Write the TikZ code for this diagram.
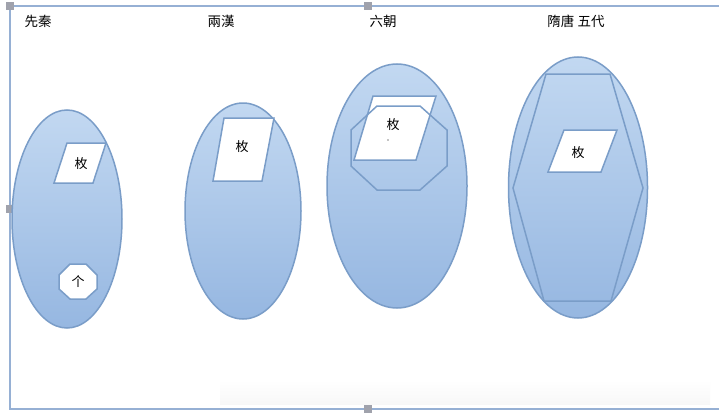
\documentclass[tikz,border=0pt]{standalone}
\usepackage{fontspec}
\newfontfamily\cjk{Noto Sans CJK TC}
\usetikzlibrary{shapes.geometric}
\definecolor{ellstroke}{RGB}{122,157,200}
\definecolor{elltop}{RGB}{194,216,241}
\definecolor{ellbot}{RGB}{150,183,225}
\definecolor{framec}{RGB}{150,176,212}
\definecolor{handle}{RGB}{160,162,172}
\tikzset{
  era/.style={ellipse, draw=ellstroke, line width=1.5pt, top color=elltop, bottom color=ellbot, inner sep=0pt},
  title/.style={font=\cjk\fontsize{13.5}{13.5}\selectfont, text=black, inner sep=0pt},
  mei/.style={font=\cjk\fontsize{13}{13}\selectfont, text=black, inner sep=0pt},
  pgram/.style={draw=ellstroke, fill=white, line width=1.5pt, line join=miter},
  outline/.style={draw=ellstroke, line width=1.5pt, line join=miter},
  handlebox/.style={fill=handle, draw=none},
}
\begin{document}
\begin{tikzpicture}[x=1pt,y=-1pt]
\useasboundingbox (0,0) rectangle (719,412);
\fill[white] (0,0) rectangle (719,412);
% faint bottom shadow
\shade[top color=white, bottom color=black!3] (220,380) rectangle (710,404);
% frame
\draw[framec, line width=1.6pt] (719,6) -- (10,6) -- (10,409) -- (719,409);
\fill[handlebox] (6,2) rectangle (14,10);
\fill[handlebox] (364,2) rectangle (372,10);
\fill[handlebox] (6,205) rectangle (14,213);
\fill[handlebox] (364,405) rectangle (372,413);
% titles
\node[title] (t1) at (38,21) {先秦};
\node[title] (t2) at (221,21) {兩漢};
\node[title] (t3) at (383,21) {六朝};
\node[title] (t4) at (576,21) {隋唐 五代};
% ellipses
\node[era, minimum width=110, minimum height=218] (e1) at (67,219) {};
\node[era, minimum width=116, minimum height=216] (e2) at (243,211) {};
\node[era, minimum width=140, minimum height=244] (e3) at (397,186) {};
\node[era, minimum width=139, minimum height=261] (e4) at (578,187.5) {};
% era 1
\draw[pgram] (67,143) -- (106,143) -- (93,183) -- (54,183) -- cycle;
\node[mei] (m1) at (81,164) {枚};
\draw[pgram] (70,264) -- (86,264) -- (97,275) -- (97,289) -- (86,299) -- (70,299) -- (59,289) -- (59,275) -- cycle;
\node[mei] (g1) at (78,282) {个};
% era 2
\draw[pgram] (224,118) -- (274,118) -- (262,181) -- (213,181) -- cycle;
\node[mei] (m2) at (242,147) {枚};
% era 3
\draw[pgram] (373,96) -- (436,96) -- (416,160) -- (354,160) -- cycle;
\node[mei] (m3) at (393,125) {枚};
\fill[black] (388,140) circle (0.7);
\draw[outline] (377,106) -- (420,106) -- (447,130) -- (447,166) -- (420,190) -- (377,190) -- (351,166) -- (351,130) -- cycle;
% era 4
\draw[outline] (546,74) -- (610,74) -- (643,188) -- (611,301) -- (544,301) -- (513,188) -- cycle;
\draw[pgram] (564,130) -- (617,130) -- (601,172) -- (548,172) -- cycle;
\node[mei] (m4) at (578,153) {枚};
\end{tikzpicture}
\end{document}
